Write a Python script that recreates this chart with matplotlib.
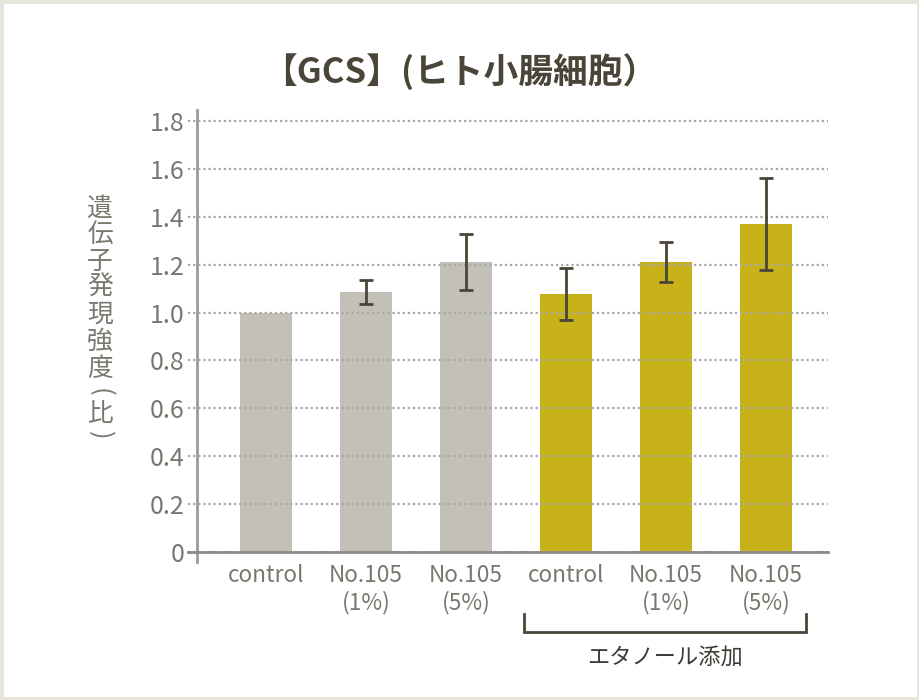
import matplotlib
matplotlib.use("Agg")
import matplotlib.pyplot as plt
from matplotlib.patches import Rectangle

plt.rcParams['font.family'] = ['Noto Sans CJK JP', 'DejaVu Sans']

# data
categories = ["control", "No.105\n(1%)", "No.105\n(5%)",
              "control", "No.105\n(1%)", "No.105\n(5%)"]
values = [1.00, 1.086, 1.211, 1.078, 1.211, 1.370]
errors = [0.0, 0.050, 0.117, 0.108, 0.083, 0.192]
yticks = [0, 0.2, 0.4, 0.6, 0.8, 1.0, 1.2, 1.4, 1.6, 1.8]
ytick_labels = ["0", "0.2", "0.4", "0.6", "0.8", "1.0", "1.2", "1.4", "1.6", "1.8"]
title = "【GCS】(ヒト小腸細胞）"
ylabel = "遺伝子発現強度(比)"
group_label = "エタノール添加"

GRAY = "#c3c0b8"
GOLD = "#c8b21a"
DARK = "#4a4538"
TEXT_GRAY = "#78786f"

colors = [GRAY] * 3 + [GOLD] * 3
x = list(range(len(values)))

fig = plt.figure(figsize=(9.2, 7), dpi=100)
fig.patch.set_facecolor("white")
# thin beige frame around the picture
fig.add_artist(Rectangle((0, 0), 1, 1, transform=fig.transFigure,
                         fill=False, edgecolor="#e8e5dc", linewidth=5))

ax = fig.add_axes([188 / 920, 138 / 700, 640 / 920, 452 / 700])
ax.bar(x, values, width=0.52, color=colors, zorder=1)
ax.errorbar(x[1:], values[1:], yerr=errors[1:], fmt="none", ecolor=DARK,
            elinewidth=2, capsize=5, capthick=2, zorder=4)

ax.set_xlim(-0.78, 5.62)
ax.set_ylim(-0.042, 1.846)

ax.set_yticks(yticks)
ax.set_yticklabels(ytick_labels, fontweight="light")
ax.yaxis.grid(True, color="#a8a8a8", linestyle=(0, (1, 1.3)), linewidth=1.6, zorder=3)
ax.set_axisbelow(False)
ax.tick_params(axis="y", length=0, pad=9, labelsize=18, labelcolor=TEXT_GRAY)

ax.set_xticks(x)
ax.set_xticklabels(categories, linespacing=1.0)
ax.tick_params(axis="x", length=0, pad=9, labelsize=16.3, labelcolor=TEXT_GRAY)

for side in ["top", "right"]:
    ax.spines[side].set_visible(False)
ax.spines["left"].set_position(("data", -0.69))
ax.spines["left"].set_color("#9a9a9a")
ax.spines["left"].set_linewidth(2)
ax.spines["bottom"].set_position(("data", 0))
ax.spines["bottom"].set_color("#8a8a86")
ax.spines["bottom"].set_linewidth(2)
ax.spines["bottom"].set_zorder(5)

# bracket under the ethanol group
ax.plot([2.58, 2.58, 5.40, 5.40], [-0.259, -0.334, -0.334, -0.259],
        color=DARK, linewidth=2, clip_on=False, solid_joinstyle="miter")
ax.text(3.99, -0.44, group_label, ha="center", va="center",
        fontsize=16, color="#3d3a33")

# title: 【 has a blank left half and ） a blank right half, centre the ink
title_size = 25
em = title_size * fig.dpi / 72
renderer = fig.canvas.get_renderer()
t = fig.text(0, 1 - 72 / 700, title, ha="left", va="center",
             fontsize=title_size, fontweight="bold", color=DARK)
w = t.get_window_extent(renderer).width
t.set_x((460 - (w - em) / 2 - em / 2) / 920)

# vertical y label, characters upright, brackets turned
y_centers = [209, 235, 262, 288, 315, 342, 369, 392, 414, 435]
for ch, yc in zip(ylabel, y_centers):
    rot = -90 if ch in "()" else 0
    fig.text(100 / 920, 1 - yc / 700, ch, ha="center", va="center",
             rotation=rot, fontsize=18.5, color=TEXT_GRAY)

fig.savefig("out.png", dpi=100)
